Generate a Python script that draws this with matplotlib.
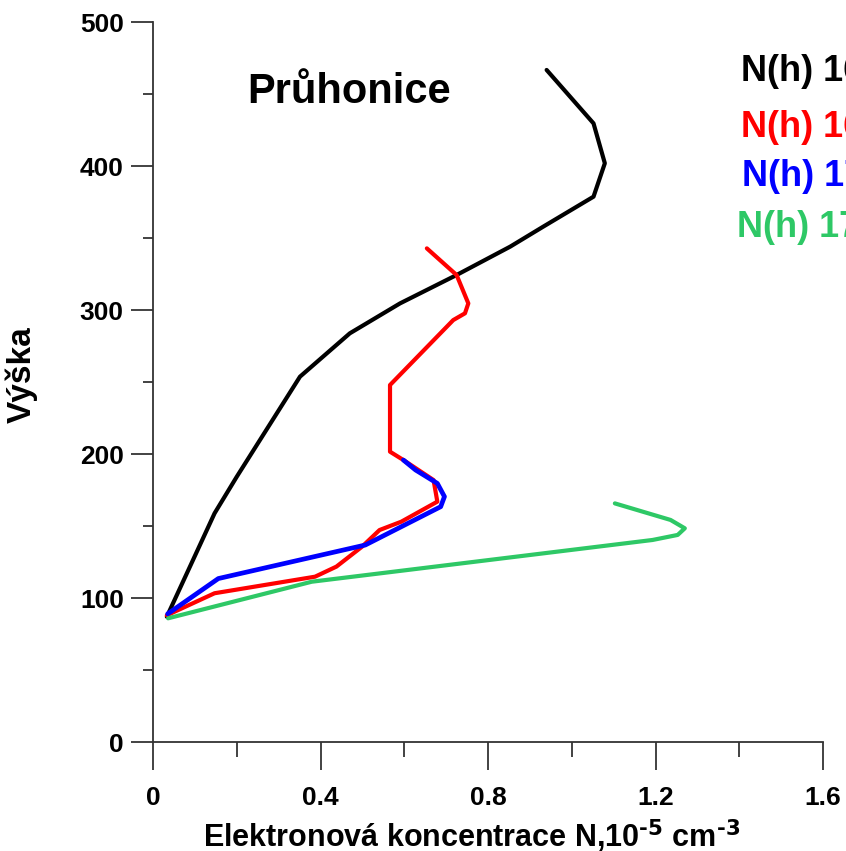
import matplotlib
matplotlib.use("Agg")
import matplotlib.pyplot as plt
from matplotlib.ticker import MultipleLocator

plt.rcParams["font.family"] = ["Liberation Sans", "DejaVu Sans"]
plt.rcParams["font.weight"] = "bold"
plt.rcParams["mathtext.default"] = "regular"

# electron concentration (x, 1e5 cm^-3) vs height (y, km)
black_n = [0.033, 0.147, 0.200, 0.351, 0.470, 0.590, 0.725, 0.853, 0.932, 1.052, 1.079, 1.052, 0.940]
black_h = [87, 158.8, 184.2, 253.7, 283.8, 304.6, 324.3, 344, 357.9, 378.7, 401.9, 429.6, 466.7]

red_n = [0.033, 0.147, 0.387, 0.438, 0.499, 0.541, 0.593, 0.679, 0.670, 0.598, 0.566, 0.566,
         0.717, 0.745, 0.753, 0.725, 0.654]
red_h = [88, 103.3, 114.8, 121.8, 135.6, 147.2, 153.0, 166.9, 181.9, 195.8, 201.6, 247.9,
         293, 297.7, 304.6, 324.3, 342.8]

blue_n = [0.035, 0.156, 0.507, 0.687, 0.696, 0.679, 0.627, 0.598]
blue_h = [89, 113.5, 136.8, 163.4, 170.4, 179.6, 188.9, 195.8]

green_n = [0.036, 0.379, 1.193, 1.253, 1.270, 1.236, 1.103]
green_h = [85.9, 111.3, 140.3, 143.8, 148.4, 154.2, 165.7]

labels = ["N(h) 16:00", "N(h) 16:30", "N(h) 17:00", "N(h) 17:30"]
colors = ["black", "#ff0000", "#0000ff", "#2ec866"]

fig = plt.figure(figsize=(8.46, 8.51), dpi=100)
ax = fig.add_axes([153 / 846, 1 - 742 / 851, 670 / 846, 720 / 851])

series = [(black_n, black_h), (red_n, red_h), (blue_n, blue_h), (green_n, green_h)]
widths = [3.0, 3.0, 3.4, 3.0]
for (n, h), c, lw in zip(series, colors, widths):
    ax.plot(n, h, color=c, linewidth=lw, solid_joinstyle="round", solid_capstyle="round")

ax.set_xlim(0, 1.6)
ax.set_ylim(0, 500)
ax.set_xticks([0, 0.4, 0.8, 1.2, 1.6])
ax.set_xticklabels(["0", "0.4", "0.8", "1.2", "1.6"])
ax.xaxis.set_minor_locator(MultipleLocator(0.2))
ax.set_yticks([0, 100, 200, 300, 400, 500])
ax.yaxis.set_minor_locator(MultipleLocator(50))

for side in ["top", "right"]:
    ax.spines[side].set_visible(False)
for side in ["left", "bottom"]:
    ax.spines[side].set_linewidth(1.3)
    ax.spines[side].set_color("#333333")

ax.tick_params(axis="x", which="major", length=20, width=1.2, pad=12, labelsize=19, colors="#222222", labelcolor="black")
ax.tick_params(axis="x", which="minor", length=11, width=1.2, colors="#222222")
ax.tick_params(axis="y", which="major", length=16, width=1.2, pad=5, labelsize=19, colors="#222222", labelcolor="black")
ax.tick_params(axis="y", which="minor", length=7, width=1.2, colors="#222222")
for lab in ax.get_xticklabels() + ax.get_yticklabels():
    lab.set_fontweight("bold")

ax.set_xlabel(r"Elektronová koncentrace N,10$^{\text{-5}}$ cm$^{\text{-3}}$",
              fontsize=22, fontweight="bold")
ax.xaxis.set_label_coords(0.475, -0.105)
ax.set_ylabel("Výška", fontsize=24, fontweight="bold")
ax.yaxis.set_label_coords(-0.172, 0.51)

ax.text(0.14, 0.8875, "Průhonice", transform=ax.transAxes, fontsize=30, fontweight="bold",
        ha="left", va="baseline")

label_x = [0.877, 0.877, 0.879, 0.871]
label_y = [0.931, 0.854, 0.786, 0.714]
for lab, c, xx, yy in zip(labels, colors, label_x, label_y):
    ax.text(xx, yy, lab, transform=ax.transAxes, color=c, fontsize=26, fontweight="bold",
            ha="left", va="center", clip_on=False)

fig.savefig("out.png", dpi=100)
